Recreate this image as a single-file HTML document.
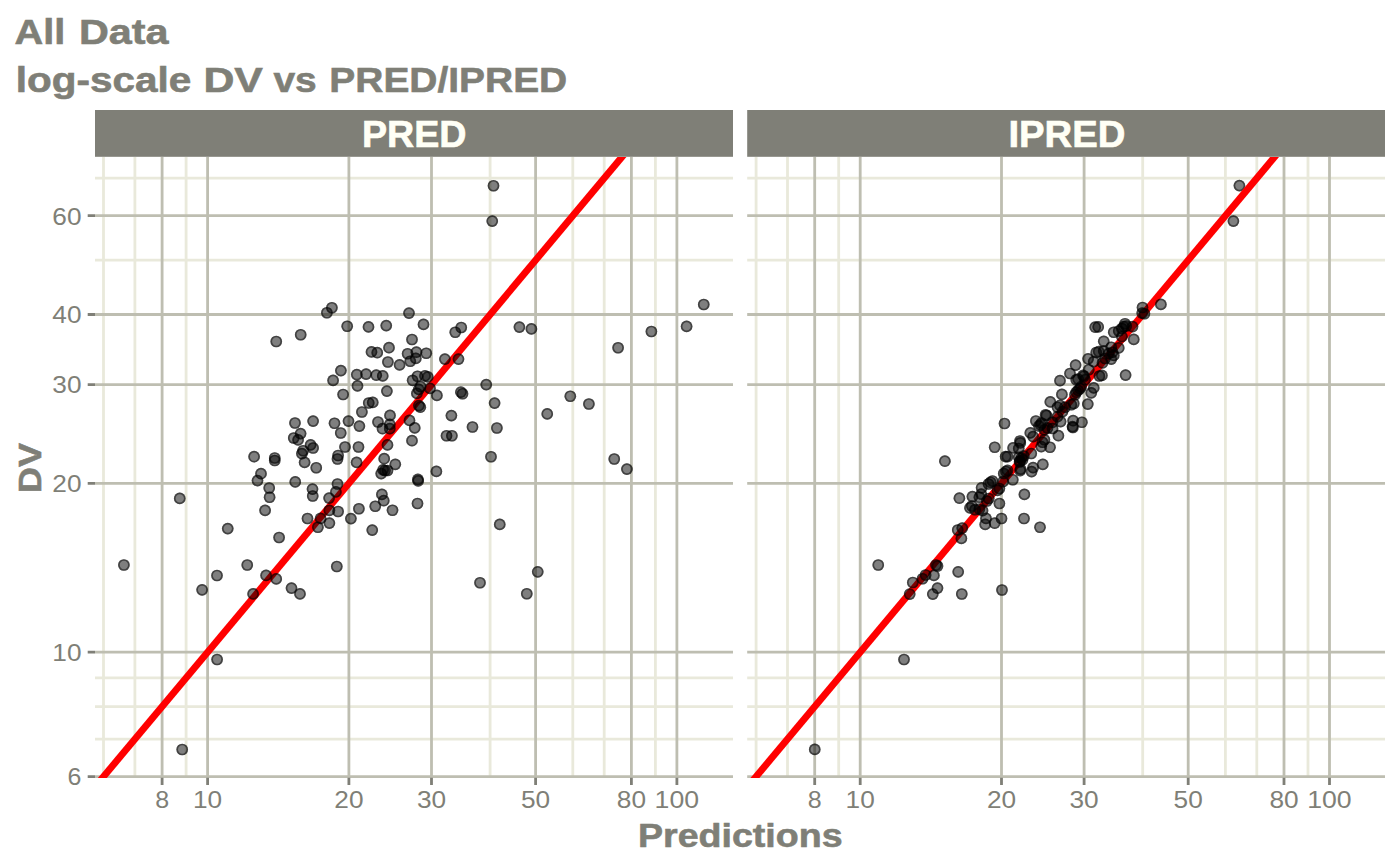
<!DOCTYPE html>
<html><head><meta charset="utf-8"><title>DV vs PRED/IPRED</title>
<style>html,body{margin:0;padding:0;background:#fff}body{width:1400px;height:865px;overflow:hidden}svg{display:block}text{font-family:"Liberation Sans",sans-serif}.b{font-weight:bold}</style></head><body>
<svg width="1400" height="865" viewBox="0 0 1400 865">
<rect width="1400" height="865" fill="#fff"/>
<defs>
<clipPath id="c1"><rect x="95.0" y="157.0" width="638.0" height="620.9"/></clipPath>
<clipPath id="c2"><rect x="747.2" y="157.0" width="637.8" height="620.9"/></clipPath>
</defs>
<text x="14.6" y="43.9" font-size="35.4" fill="#7f7f77" class="b" textLength="50.75" lengthAdjust="spacingAndGlyphs" stroke="#7f7f77" stroke-width="0.6">All</text>
<text x="78.9" y="43.9" font-size="35.4" fill="#7f7f77" class="b" textLength="89.6" lengthAdjust="spacingAndGlyphs" stroke="#7f7f77" stroke-width="0.6">Data</text>
<text x="15.8" y="92.0" font-size="35.4" fill="#7f7f77" class="b" textLength="175.5" lengthAdjust="spacingAndGlyphs" stroke="#7f7f77" stroke-width="0.6">log-scale</text>
<text x="203.4" y="92.0" font-size="35.4" fill="#7f7f77" class="b" textLength="59.5" lengthAdjust="spacingAndGlyphs" stroke="#7f7f77" stroke-width="0.6">DV</text>
<text x="273.45" y="92.0" font-size="35.4" fill="#7f7f77" class="b" textLength="43.35" lengthAdjust="spacingAndGlyphs" stroke="#7f7f77" stroke-width="0.6">vs</text>
<text x="329.35" y="92.0" font-size="35.4" fill="#7f7f77" class="b" textLength="237.85" lengthAdjust="spacingAndGlyphs" stroke="#7f7f77" stroke-width="0.6">PRED/IPRED</text>
<rect x="95.0" y="110" width="638.0" height="46.8" fill="#7f7f77"/>
<path d="M95.0 739.1H733.0M95.0 706.6H733.0M95.0 677.9H733.0M95.0 260.1H733.0M95.0 178.2H733.0M103.5 157.0V777.9M134.9 157.0V777.9M186.1 157.0V777.9M490.1 157.0V777.9M572.8 157.0V777.9M604.2 157.0V777.9M655.4 157.0V777.9" stroke="#e9e9db" stroke-width="2.8" fill="none"/>
<path d="M95.0 776.6H733.0M95.0 652.2H733.0M95.0 483.4H733.0M95.0 384.6H733.0M95.0 314.5H733.0M95.0 215.7H733.0M162.1 157.0V777.9M207.6 157.0V777.9M348.9 157.0V777.9M431.5 157.0V777.9M535.6 157.0V777.9M631.4 157.0V777.9M676.9 157.0V777.9" stroke="#bebeb1" stroke-width="2.8" fill="none"/>
<g clip-path="url(#c1)">
<line x1="-37.8" y1="945.5" x2="900.8" y2="-176.3" stroke="#ff0000" stroke-width="6.9"/>
<g fill="#000" fill-opacity=".5"><circle cx="493.5" cy="185.75" r="5.85"/><circle cx="492.25" cy="221.1" r="5.85"/><circle cx="276.25" cy="341.5" r="5.85"/><circle cx="300.7" cy="334.75" r="5.85"/><circle cx="326.9" cy="312.75" r="5.85"/><circle cx="331.9" cy="307.75" r="5.85"/><circle cx="347.2" cy="326.25" r="5.85"/><circle cx="368.5" cy="326.9" r="5.85"/><circle cx="386.25" cy="325.6" r="5.85"/><circle cx="409" cy="313.1" r="5.85"/><circle cx="423.5" cy="324.4" r="5.85"/><circle cx="412" cy="339.5" r="5.85"/><circle cx="389" cy="347.7" r="5.85"/><circle cx="371.5" cy="351.9" r="5.85"/><circle cx="377.25" cy="352.7" r="5.85"/><circle cx="407.6" cy="353.75" r="5.85"/><circle cx="416.4" cy="352.2" r="5.85"/><circle cx="426.25" cy="353.25" r="5.85"/><circle cx="415.8" cy="358.4" r="5.85"/><circle cx="410.25" cy="361.25" r="5.85"/><circle cx="387.9" cy="362" r="5.85"/><circle cx="399.6" cy="364.9" r="5.85"/><circle cx="444.9" cy="359.1" r="5.85"/><circle cx="458.5" cy="359.1" r="5.85"/><circle cx="455.25" cy="332.25" r="5.85"/><circle cx="461.25" cy="327.5" r="5.85"/><circle cx="519.4" cy="327.1" r="5.85"/><circle cx="531.4" cy="328.9" r="5.85"/><circle cx="618.1" cy="347.75" r="5.85"/><circle cx="651.4" cy="331.5" r="5.85"/><circle cx="686.6" cy="326.4" r="5.85"/><circle cx="703.75" cy="304.5" r="5.85"/><circle cx="340.9" cy="370.6" r="5.85"/><circle cx="333.1" cy="380.4" r="5.85"/><circle cx="356.8" cy="374.6" r="5.85"/><circle cx="366.1" cy="374.1" r="5.85"/><circle cx="376.25" cy="375.2" r="5.85"/><circle cx="382.75" cy="375.9" r="5.85"/><circle cx="357.5" cy="385.9" r="5.85"/><circle cx="386.9" cy="391.1" r="5.85"/><circle cx="343.1" cy="394.5" r="5.85"/><circle cx="412.6" cy="380.3" r="5.85"/><circle cx="417.5" cy="376.25" r="5.85"/><circle cx="425" cy="375.9" r="5.85"/><circle cx="427.8" cy="376.9" r="5.85"/><circle cx="420.6" cy="386.7" r="5.85"/><circle cx="418.75" cy="389.4" r="5.85"/><circle cx="416.9" cy="393.4" r="5.85"/><circle cx="430" cy="388.4" r="5.85"/><circle cx="436.9" cy="395.4" r="5.85"/><circle cx="418.9" cy="405.6" r="5.85"/><circle cx="420.3" cy="407.2" r="5.85"/><circle cx="460.9" cy="392.2" r="5.85"/><circle cx="462.5" cy="393.75" r="5.85"/><circle cx="486.25" cy="384.6" r="5.85"/><circle cx="451.4" cy="415.6" r="5.85"/><circle cx="368.75" cy="403" r="5.85"/><circle cx="372.75" cy="402.4" r="5.85"/><circle cx="361.9" cy="412" r="5.85"/><circle cx="390" cy="415.4" r="5.85"/><circle cx="378" cy="422" r="5.85"/><circle cx="389.8" cy="424.4" r="5.85"/><circle cx="389.8" cy="428.7" r="5.85"/><circle cx="382.5" cy="428.7" r="5.85"/><circle cx="409.5" cy="420.4" r="5.85"/><circle cx="414.75" cy="427.9" r="5.85"/><circle cx="412" cy="440.7" r="5.85"/><circle cx="387.5" cy="444.9" r="5.85"/><circle cx="359.4" cy="426.1" r="5.85"/><circle cx="348.5" cy="421.1" r="5.85"/><circle cx="334.5" cy="423.25" r="5.85"/><circle cx="340.75" cy="433" r="5.85"/><circle cx="313.1" cy="421.1" r="5.85"/><circle cx="295" cy="423" r="5.85"/><circle cx="300.6" cy="433.6" r="5.85"/><circle cx="293.75" cy="438" r="5.85"/><circle cx="298.1" cy="439.9" r="5.85"/><circle cx="310.6" cy="444.9" r="5.85"/><circle cx="313.1" cy="448" r="5.85"/><circle cx="303.1" cy="450.75" r="5.85"/><circle cx="301.9" cy="453.6" r="5.85"/><circle cx="304.6" cy="462.4" r="5.85"/><circle cx="316.25" cy="467.75" r="5.85"/><circle cx="345" cy="447" r="5.85"/><circle cx="358.5" cy="447" r="5.85"/><circle cx="338.1" cy="455.5" r="5.85"/><circle cx="337.5" cy="459" r="5.85"/><circle cx="356.6" cy="462.4" r="5.85"/><circle cx="384.2" cy="458.7" r="5.85"/><circle cx="395.3" cy="464.3" r="5.85"/><circle cx="383.1" cy="469.8" r="5.85"/><circle cx="385" cy="470.5" r="5.85"/><circle cx="387.5" cy="470.5" r="5.85"/><circle cx="381.2" cy="473.6" r="5.85"/><circle cx="417.9" cy="479.4" r="5.85"/><circle cx="418.2" cy="480.9" r="5.85"/><circle cx="436.4" cy="471.4" r="5.85"/><circle cx="254.1" cy="456.7" r="5.85"/><circle cx="274.75" cy="458" r="5.85"/><circle cx="274.75" cy="460.5" r="5.85"/><circle cx="261" cy="473.7" r="5.85"/><circle cx="257.5" cy="480.6" r="5.85"/><circle cx="494.6" cy="403.1" r="5.85"/><circle cx="472.5" cy="427" r="5.85"/><circle cx="496.9" cy="428" r="5.85"/><circle cx="446.5" cy="435.75" r="5.85"/><circle cx="451.9" cy="435.75" r="5.85"/><circle cx="491" cy="456.75" r="5.85"/><circle cx="547.25" cy="413.9" r="5.85"/><circle cx="570.3" cy="396.25" r="5.85"/><circle cx="588.9" cy="404" r="5.85"/><circle cx="614.25" cy="459" r="5.85"/><circle cx="626.9" cy="469.1" r="5.85"/><circle cx="179.75" cy="498.4" r="5.85"/><circle cx="123.9" cy="565" r="5.85"/><circle cx="227.75" cy="528.6" r="5.85"/><circle cx="247.25" cy="565" r="5.85"/><circle cx="217" cy="575.5" r="5.85"/><circle cx="202.1" cy="589.8" r="5.85"/><circle cx="269.2" cy="488" r="5.85"/><circle cx="269.6" cy="497.25" r="5.85"/><circle cx="265.1" cy="510.4" r="5.85"/><circle cx="266.1" cy="575.4" r="5.85"/><circle cx="253.1" cy="593.9" r="5.85"/><circle cx="295.25" cy="481.9" r="5.85"/><circle cx="312.5" cy="489.1" r="5.85"/><circle cx="312.75" cy="496" r="5.85"/><circle cx="337.5" cy="484" r="5.85"/><circle cx="335.9" cy="491.9" r="5.85"/><circle cx="329.1" cy="498.1" r="5.85"/><circle cx="329.4" cy="510.4" r="5.85"/><circle cx="338.1" cy="511.5" r="5.85"/><circle cx="320.6" cy="518.4" r="5.85"/><circle cx="307.5" cy="518.5" r="5.85"/><circle cx="329.4" cy="523.1" r="5.85"/><circle cx="317.9" cy="527.25" r="5.85"/><circle cx="279.1" cy="537.5" r="5.85"/><circle cx="350.9" cy="518.6" r="5.85"/><circle cx="358.9" cy="508.75" r="5.85"/><circle cx="375.25" cy="506.25" r="5.85"/><circle cx="381.9" cy="494.4" r="5.85"/><circle cx="383.75" cy="500.7" r="5.85"/><circle cx="392.5" cy="510.25" r="5.85"/><circle cx="372.25" cy="530.1" r="5.85"/><circle cx="417.5" cy="503.5" r="5.85"/><circle cx="336.8" cy="566.5" r="5.85"/><circle cx="276.25" cy="578.9" r="5.85"/><circle cx="291.5" cy="588.1" r="5.85"/><circle cx="300" cy="593.9" r="5.85"/><circle cx="499.75" cy="524.4" r="5.85"/><circle cx="537.75" cy="571.8" r="5.85"/><circle cx="480" cy="582.75" r="5.85"/><circle cx="526.8" cy="593.75" r="5.85"/><circle cx="217.1" cy="659.5" r="5.85"/><circle cx="182.2" cy="749.5" r="5.85"/></g>
<g fill="none" stroke="#000" stroke-opacity=".48" stroke-width="1.7"><circle cx="493.5" cy="185.75" r="5"/><circle cx="492.25" cy="221.1" r="5"/><circle cx="276.25" cy="341.5" r="5"/><circle cx="300.7" cy="334.75" r="5"/><circle cx="326.9" cy="312.75" r="5"/><circle cx="331.9" cy="307.75" r="5"/><circle cx="347.2" cy="326.25" r="5"/><circle cx="368.5" cy="326.9" r="5"/><circle cx="386.25" cy="325.6" r="5"/><circle cx="409" cy="313.1" r="5"/><circle cx="423.5" cy="324.4" r="5"/><circle cx="412" cy="339.5" r="5"/><circle cx="389" cy="347.7" r="5"/><circle cx="371.5" cy="351.9" r="5"/><circle cx="377.25" cy="352.7" r="5"/><circle cx="407.6" cy="353.75" r="5"/><circle cx="416.4" cy="352.2" r="5"/><circle cx="426.25" cy="353.25" r="5"/><circle cx="415.8" cy="358.4" r="5"/><circle cx="410.25" cy="361.25" r="5"/><circle cx="387.9" cy="362" r="5"/><circle cx="399.6" cy="364.9" r="5"/><circle cx="444.9" cy="359.1" r="5"/><circle cx="458.5" cy="359.1" r="5"/><circle cx="455.25" cy="332.25" r="5"/><circle cx="461.25" cy="327.5" r="5"/><circle cx="519.4" cy="327.1" r="5"/><circle cx="531.4" cy="328.9" r="5"/><circle cx="618.1" cy="347.75" r="5"/><circle cx="651.4" cy="331.5" r="5"/><circle cx="686.6" cy="326.4" r="5"/><circle cx="703.75" cy="304.5" r="5"/><circle cx="340.9" cy="370.6" r="5"/><circle cx="333.1" cy="380.4" r="5"/><circle cx="356.8" cy="374.6" r="5"/><circle cx="366.1" cy="374.1" r="5"/><circle cx="376.25" cy="375.2" r="5"/><circle cx="382.75" cy="375.9" r="5"/><circle cx="357.5" cy="385.9" r="5"/><circle cx="386.9" cy="391.1" r="5"/><circle cx="343.1" cy="394.5" r="5"/><circle cx="412.6" cy="380.3" r="5"/><circle cx="417.5" cy="376.25" r="5"/><circle cx="425" cy="375.9" r="5"/><circle cx="427.8" cy="376.9" r="5"/><circle cx="420.6" cy="386.7" r="5"/><circle cx="418.75" cy="389.4" r="5"/><circle cx="416.9" cy="393.4" r="5"/><circle cx="430" cy="388.4" r="5"/><circle cx="436.9" cy="395.4" r="5"/><circle cx="418.9" cy="405.6" r="5"/><circle cx="420.3" cy="407.2" r="5"/><circle cx="460.9" cy="392.2" r="5"/><circle cx="462.5" cy="393.75" r="5"/><circle cx="486.25" cy="384.6" r="5"/><circle cx="451.4" cy="415.6" r="5"/><circle cx="368.75" cy="403" r="5"/><circle cx="372.75" cy="402.4" r="5"/><circle cx="361.9" cy="412" r="5"/><circle cx="390" cy="415.4" r="5"/><circle cx="378" cy="422" r="5"/><circle cx="389.8" cy="424.4" r="5"/><circle cx="389.8" cy="428.7" r="5"/><circle cx="382.5" cy="428.7" r="5"/><circle cx="409.5" cy="420.4" r="5"/><circle cx="414.75" cy="427.9" r="5"/><circle cx="412" cy="440.7" r="5"/><circle cx="387.5" cy="444.9" r="5"/><circle cx="359.4" cy="426.1" r="5"/><circle cx="348.5" cy="421.1" r="5"/><circle cx="334.5" cy="423.25" r="5"/><circle cx="340.75" cy="433" r="5"/><circle cx="313.1" cy="421.1" r="5"/><circle cx="295" cy="423" r="5"/><circle cx="300.6" cy="433.6" r="5"/><circle cx="293.75" cy="438" r="5"/><circle cx="298.1" cy="439.9" r="5"/><circle cx="310.6" cy="444.9" r="5"/><circle cx="313.1" cy="448" r="5"/><circle cx="303.1" cy="450.75" r="5"/><circle cx="301.9" cy="453.6" r="5"/><circle cx="304.6" cy="462.4" r="5"/><circle cx="316.25" cy="467.75" r="5"/><circle cx="345" cy="447" r="5"/><circle cx="358.5" cy="447" r="5"/><circle cx="338.1" cy="455.5" r="5"/><circle cx="337.5" cy="459" r="5"/><circle cx="356.6" cy="462.4" r="5"/><circle cx="384.2" cy="458.7" r="5"/><circle cx="395.3" cy="464.3" r="5"/><circle cx="383.1" cy="469.8" r="5"/><circle cx="385" cy="470.5" r="5"/><circle cx="387.5" cy="470.5" r="5"/><circle cx="381.2" cy="473.6" r="5"/><circle cx="417.9" cy="479.4" r="5"/><circle cx="418.2" cy="480.9" r="5"/><circle cx="436.4" cy="471.4" r="5"/><circle cx="254.1" cy="456.7" r="5"/><circle cx="274.75" cy="458" r="5"/><circle cx="274.75" cy="460.5" r="5"/><circle cx="261" cy="473.7" r="5"/><circle cx="257.5" cy="480.6" r="5"/><circle cx="494.6" cy="403.1" r="5"/><circle cx="472.5" cy="427" r="5"/><circle cx="496.9" cy="428" r="5"/><circle cx="446.5" cy="435.75" r="5"/><circle cx="451.9" cy="435.75" r="5"/><circle cx="491" cy="456.75" r="5"/><circle cx="547.25" cy="413.9" r="5"/><circle cx="570.3" cy="396.25" r="5"/><circle cx="588.9" cy="404" r="5"/><circle cx="614.25" cy="459" r="5"/><circle cx="626.9" cy="469.1" r="5"/><circle cx="179.75" cy="498.4" r="5"/><circle cx="123.9" cy="565" r="5"/><circle cx="227.75" cy="528.6" r="5"/><circle cx="247.25" cy="565" r="5"/><circle cx="217" cy="575.5" r="5"/><circle cx="202.1" cy="589.8" r="5"/><circle cx="269.2" cy="488" r="5"/><circle cx="269.6" cy="497.25" r="5"/><circle cx="265.1" cy="510.4" r="5"/><circle cx="266.1" cy="575.4" r="5"/><circle cx="253.1" cy="593.9" r="5"/><circle cx="295.25" cy="481.9" r="5"/><circle cx="312.5" cy="489.1" r="5"/><circle cx="312.75" cy="496" r="5"/><circle cx="337.5" cy="484" r="5"/><circle cx="335.9" cy="491.9" r="5"/><circle cx="329.1" cy="498.1" r="5"/><circle cx="329.4" cy="510.4" r="5"/><circle cx="338.1" cy="511.5" r="5"/><circle cx="320.6" cy="518.4" r="5"/><circle cx="307.5" cy="518.5" r="5"/><circle cx="329.4" cy="523.1" r="5"/><circle cx="317.9" cy="527.25" r="5"/><circle cx="279.1" cy="537.5" r="5"/><circle cx="350.9" cy="518.6" r="5"/><circle cx="358.9" cy="508.75" r="5"/><circle cx="375.25" cy="506.25" r="5"/><circle cx="381.9" cy="494.4" r="5"/><circle cx="383.75" cy="500.7" r="5"/><circle cx="392.5" cy="510.25" r="5"/><circle cx="372.25" cy="530.1" r="5"/><circle cx="417.5" cy="503.5" r="5"/><circle cx="336.8" cy="566.5" r="5"/><circle cx="276.25" cy="578.9" r="5"/><circle cx="291.5" cy="588.1" r="5"/><circle cx="300" cy="593.9" r="5"/><circle cx="499.75" cy="524.4" r="5"/><circle cx="537.75" cy="571.8" r="5"/><circle cx="480" cy="582.75" r="5"/><circle cx="526.8" cy="593.75" r="5"/><circle cx="217.1" cy="659.5" r="5"/><circle cx="182.2" cy="749.5" r="5"/></g>
</g>
<path d="M162.1 777.6999999999999v7.2M207.6 777.6999999999999v7.2M348.9 777.6999999999999v7.2M431.5 777.6999999999999v7.2M535.6 777.6999999999999v7.2M631.4 777.6999999999999v7.2M676.9 777.6999999999999v7.2" stroke="#7f7f77" stroke-width="2.8" fill="none"/>
<text x="155.2" y="808.4" font-size="23.4" fill="#7f7f77" textLength="13.9" lengthAdjust="spacingAndGlyphs">8</text>
<text x="193.0" y="808.4" font-size="23.4" fill="#7f7f77" textLength="29.2" lengthAdjust="spacingAndGlyphs">10</text>
<text x="334.3" y="808.4" font-size="23.4" fill="#7f7f77" textLength="29.2" lengthAdjust="spacingAndGlyphs">20</text>
<text x="416.9" y="808.4" font-size="23.4" fill="#7f7f77" textLength="29.2" lengthAdjust="spacingAndGlyphs">30</text>
<text x="521.0" y="808.4" font-size="23.4" fill="#7f7f77" textLength="29.2" lengthAdjust="spacingAndGlyphs">50</text>
<text x="616.8" y="808.4" font-size="23.4" fill="#7f7f77" textLength="29.2" lengthAdjust="spacingAndGlyphs">80</text>
<text x="654.6" y="808.4" font-size="23.4" fill="#7f7f77" textLength="44.5" lengthAdjust="spacingAndGlyphs">100</text>
<rect x="747.2" y="110" width="637.8" height="46.8" fill="#7f7f77"/>
<path d="M747.2 739.1H1385.0M747.2 706.6H1385.0M747.2 677.9H1385.0M747.2 260.1H1385.0M747.2 178.2H1385.0M756.1 157.0V777.9M787.5 157.0V777.9M838.7 157.0V777.9M1142.7 157.0V777.9M1225.4 157.0V777.9M1256.8 157.0V777.9M1308.0 157.0V777.9" stroke="#e9e9db" stroke-width="2.8" fill="none"/>
<path d="M747.2 776.6H1385.0M747.2 652.2H1385.0M747.2 483.4H1385.0M747.2 384.6H1385.0M747.2 314.5H1385.0M747.2 215.7H1385.0M814.7 157.0V777.9M860.2 157.0V777.9M1001.5 157.0V777.9M1084.1 157.0V777.9M1188.2 157.0V777.9M1284.0 157.0V777.9M1329.5 157.0V777.9" stroke="#bebeb1" stroke-width="2.8" fill="none"/>
<g clip-path="url(#c2)">
<g fill="#000" fill-opacity=".5"><circle cx="1239.4" cy="185.6" r="5.85"/><circle cx="1233.4" cy="221.1" r="5.85"/></g>
<g fill="none" stroke="#000" stroke-opacity=".48" stroke-width="1.7"><circle cx="1239.4" cy="185.6" r="5"/><circle cx="1233.4" cy="221.1" r="5"/></g>
<line x1="614.8" y1="945.5" x2="1553.4" y2="-176.3" stroke="#ff0000" stroke-width="6.9"/>
<g fill="#000" fill-opacity=".5"><circle cx="814.75" cy="749.4" r="5.85"/><circle cx="904" cy="659.5" r="5.85"/><circle cx="878.25" cy="565" r="5.85"/><circle cx="1002" cy="590" r="5.85"/><circle cx="958.2" cy="571.8" r="5.85"/><circle cx="961.8" cy="594" r="5.85"/><circle cx="937.5" cy="588.1" r="5.85"/><circle cx="932.8" cy="594.1" r="5.85"/><circle cx="933.9" cy="575.4" r="5.85"/><circle cx="936" cy="565" r="5.85"/><circle cx="937.5" cy="566" r="5.85"/><circle cx="925.6" cy="575" r="5.85"/><circle cx="922.5" cy="578.75" r="5.85"/><circle cx="912.8" cy="582.5" r="5.85"/><circle cx="909.7" cy="594.1" r="5.85"/><circle cx="957.75" cy="530" r="5.85"/><circle cx="962.25" cy="528.1" r="5.85"/><circle cx="961.4" cy="538.4" r="5.85"/><circle cx="944.9" cy="461.2" r="5.85"/><circle cx="959.4" cy="498.2" r="5.85"/><circle cx="972.4" cy="496.6" r="5.85"/><circle cx="981.6" cy="487.8" r="5.85"/><circle cx="1024.4" cy="494.4" r="5.85"/><circle cx="1024" cy="518.5" r="5.85"/><circle cx="999.4" cy="503.5" r="5.85"/><circle cx="1001.5" cy="518.5" r="5.85"/><circle cx="994.7" cy="523.2" r="5.85"/><circle cx="986" cy="518.4" r="5.85"/><circle cx="985.2" cy="524.4" r="5.85"/><circle cx="1012.8" cy="479.75" r="5.85"/><circle cx="970" cy="507.9" r="5.85"/><circle cx="971.9" cy="506" r="5.85"/><circle cx="975" cy="509.75" r="5.85"/><circle cx="982.5" cy="510.7" r="5.85"/><circle cx="979.4" cy="509.1" r="5.85"/><circle cx="981.25" cy="494.1" r="5.85"/><circle cx="979.4" cy="497.25" r="5.85"/><circle cx="990.6" cy="482.25" r="5.85"/><circle cx="992.5" cy="481" r="5.85"/><circle cx="988.5" cy="484" r="5.85"/><circle cx="997.5" cy="490.4" r="5.85"/><circle cx="999.4" cy="488.5" r="5.85"/><circle cx="986.9" cy="501" r="5.85"/><circle cx="988.75" cy="498.5" r="5.85"/><circle cx="1003.1" cy="481.6" r="5.85"/><circle cx="1040" cy="527.25" r="5.85"/><circle cx="994.7" cy="447.25" r="5.85"/><circle cx="1004.5" cy="423.5" r="5.85"/><circle cx="1005.6" cy="456.6" r="5.85"/><circle cx="1007.5" cy="456.6" r="5.85"/><circle cx="1013.1" cy="447.9" r="5.85"/><circle cx="1020" cy="441" r="5.85"/><circle cx="1020.3" cy="442.9" r="5.85"/><circle cx="1018.75" cy="448.5" r="5.85"/><circle cx="1030.3" cy="432.9" r="5.85"/><circle cx="1033.1" cy="436.6" r="5.85"/><circle cx="1031.25" cy="453.5" r="5.85"/><circle cx="1042.8" cy="464.4" r="5.85"/><circle cx="1033.1" cy="467.6" r="5.85"/><circle cx="1031.6" cy="471.6" r="5.85"/><circle cx="1020.6" cy="469.1" r="5.85"/><circle cx="1020.2" cy="470.6" r="5.85"/><circle cx="1007.5" cy="470.4" r="5.85"/><circle cx="1006" cy="471.5" r="5.85"/><circle cx="1003.75" cy="473.5" r="5.85"/><circle cx="1018.75" cy="457.25" r="5.85"/><circle cx="1021.5" cy="458.2" r="5.85"/><circle cx="1019.6" cy="462" r="5.85"/><circle cx="1022.5" cy="459.75" r="5.85"/><circle cx="1023.75" cy="456" r="5.85"/><circle cx="1020" cy="461" r="5.85"/><circle cx="1041.25" cy="446.6" r="5.85"/><circle cx="1050" cy="447.25" r="5.85"/><circle cx="1044.4" cy="439.75" r="5.85"/><circle cx="1042.5" cy="442.25" r="5.85"/><circle cx="1058.4" cy="435.7" r="5.85"/><circle cx="1044.4" cy="429.75" r="5.85"/><circle cx="1047.5" cy="428" r="5.85"/><circle cx="1052.5" cy="428.5" r="5.85"/><circle cx="1060" cy="380.7" r="5.85"/><circle cx="1061.9" cy="394.4" r="5.85"/><circle cx="1050.3" cy="401.9" r="5.85"/><circle cx="1087.8" cy="404.1" r="5.85"/><circle cx="1093.75" cy="387.9" r="5.85"/><circle cx="1091.25" cy="392.9" r="5.85"/><circle cx="1073.1" cy="420.7" r="5.85"/><circle cx="1081.9" cy="422.25" r="5.85"/><circle cx="1072.5" cy="426.6" r="5.85"/><circle cx="1072.9" cy="427.5" r="5.85"/><circle cx="1060.6" cy="421.6" r="5.85"/><circle cx="1045.6" cy="414.75" r="5.85"/><circle cx="1046.5" cy="415.5" r="5.85"/><circle cx="1035.9" cy="421" r="5.85"/><circle cx="1040.6" cy="424.75" r="5.85"/><circle cx="1039" cy="426" r="5.85"/><circle cx="1041.5" cy="423" r="5.85"/><circle cx="1060" cy="405.4" r="5.85"/><circle cx="1057.5" cy="407.25" r="5.85"/><circle cx="1073.75" cy="403.5" r="5.85"/><circle cx="1071.25" cy="404.75" r="5.85"/><circle cx="1078.1" cy="390.4" r="5.85"/><circle cx="1076.25" cy="392.25" r="5.85"/><circle cx="1080" cy="388.5" r="5.85"/><circle cx="1081.25" cy="386.6" r="5.85"/><circle cx="1075" cy="394.75" r="5.85"/><circle cx="1078.1" cy="379.1" r="5.85"/><circle cx="1085" cy="379.75" r="5.85"/><circle cx="1065" cy="407.25" r="5.85"/><circle cx="1062.5" cy="411.6" r="5.85"/><circle cx="1057.5" cy="416.6" r="5.85"/><circle cx="1052.5" cy="422.25" r="5.85"/><circle cx="1095.2" cy="327.2" r="5.85"/><circle cx="1098.2" cy="326.9" r="5.85"/><circle cx="1133.75" cy="339.4" r="5.85"/><circle cx="1125.6" cy="375.1" r="5.85"/><circle cx="1103.75" cy="341.3" r="5.85"/><circle cx="1113.75" cy="332.25" r="5.85"/><circle cx="1118.75" cy="331" r="5.85"/><circle cx="1121.9" cy="328.5" r="5.85"/><circle cx="1123.75" cy="326.6" r="5.85"/><circle cx="1126.25" cy="326" r="5.85"/><circle cx="1132.5" cy="326.6" r="5.85"/><circle cx="1121.9" cy="336.6" r="5.85"/><circle cx="1118.75" cy="347.9" r="5.85"/><circle cx="1111.25" cy="347.25" r="5.85"/><circle cx="1096.25" cy="352.5" r="5.85"/><circle cx="1098.75" cy="351.6" r="5.85"/><circle cx="1103.75" cy="351" r="5.85"/><circle cx="1088.1" cy="358.8" r="5.85"/><circle cx="1093.75" cy="361.6" r="5.85"/><circle cx="1111.25" cy="359.1" r="5.85"/><circle cx="1075.6" cy="365.1" r="5.85"/><circle cx="1070" cy="373.5" r="5.85"/><circle cx="1088.75" cy="369.75" r="5.85"/><circle cx="1083.1" cy="375.4" r="5.85"/><circle cx="1084" cy="376.25" r="5.85"/><circle cx="1101.9" cy="375.4" r="5.85"/><circle cx="1099.4" cy="376" r="5.85"/><circle cx="1076.25" cy="379.75" r="5.85"/><circle cx="1108.75" cy="353.5" r="5.85"/><circle cx="1105" cy="358.5" r="5.85"/><circle cx="1102.5" cy="362.9" r="5.85"/><circle cx="1112.5" cy="352.25" r="5.85"/><circle cx="1113.75" cy="355.4" r="5.85"/><circle cx="1160.9" cy="304.4" r="5.85"/><circle cx="1142.5" cy="307.5" r="5.85"/><circle cx="1142.2" cy="313.1" r="5.85"/><circle cx="1144.4" cy="313.75" r="5.85"/><circle cx="1125" cy="323.75" r="5.85"/></g>
<g fill="none" stroke="#000" stroke-opacity=".48" stroke-width="1.7"><circle cx="814.75" cy="749.4" r="5"/><circle cx="904" cy="659.5" r="5"/><circle cx="878.25" cy="565" r="5"/><circle cx="1002" cy="590" r="5"/><circle cx="958.2" cy="571.8" r="5"/><circle cx="961.8" cy="594" r="5"/><circle cx="937.5" cy="588.1" r="5"/><circle cx="932.8" cy="594.1" r="5"/><circle cx="933.9" cy="575.4" r="5"/><circle cx="936" cy="565" r="5"/><circle cx="937.5" cy="566" r="5"/><circle cx="925.6" cy="575" r="5"/><circle cx="922.5" cy="578.75" r="5"/><circle cx="912.8" cy="582.5" r="5"/><circle cx="909.7" cy="594.1" r="5"/><circle cx="957.75" cy="530" r="5"/><circle cx="962.25" cy="528.1" r="5"/><circle cx="961.4" cy="538.4" r="5"/><circle cx="944.9" cy="461.2" r="5"/><circle cx="959.4" cy="498.2" r="5"/><circle cx="972.4" cy="496.6" r="5"/><circle cx="981.6" cy="487.8" r="5"/><circle cx="1024.4" cy="494.4" r="5"/><circle cx="1024" cy="518.5" r="5"/><circle cx="999.4" cy="503.5" r="5"/><circle cx="1001.5" cy="518.5" r="5"/><circle cx="994.7" cy="523.2" r="5"/><circle cx="986" cy="518.4" r="5"/><circle cx="985.2" cy="524.4" r="5"/><circle cx="1012.8" cy="479.75" r="5"/><circle cx="970" cy="507.9" r="5"/><circle cx="971.9" cy="506" r="5"/><circle cx="975" cy="509.75" r="5"/><circle cx="982.5" cy="510.7" r="5"/><circle cx="979.4" cy="509.1" r="5"/><circle cx="981.25" cy="494.1" r="5"/><circle cx="979.4" cy="497.25" r="5"/><circle cx="990.6" cy="482.25" r="5"/><circle cx="992.5" cy="481" r="5"/><circle cx="988.5" cy="484" r="5"/><circle cx="997.5" cy="490.4" r="5"/><circle cx="999.4" cy="488.5" r="5"/><circle cx="986.9" cy="501" r="5"/><circle cx="988.75" cy="498.5" r="5"/><circle cx="1003.1" cy="481.6" r="5"/><circle cx="1040" cy="527.25" r="5"/><circle cx="994.7" cy="447.25" r="5"/><circle cx="1004.5" cy="423.5" r="5"/><circle cx="1005.6" cy="456.6" r="5"/><circle cx="1007.5" cy="456.6" r="5"/><circle cx="1013.1" cy="447.9" r="5"/><circle cx="1020" cy="441" r="5"/><circle cx="1020.3" cy="442.9" r="5"/><circle cx="1018.75" cy="448.5" r="5"/><circle cx="1030.3" cy="432.9" r="5"/><circle cx="1033.1" cy="436.6" r="5"/><circle cx="1031.25" cy="453.5" r="5"/><circle cx="1042.8" cy="464.4" r="5"/><circle cx="1033.1" cy="467.6" r="5"/><circle cx="1031.6" cy="471.6" r="5"/><circle cx="1020.6" cy="469.1" r="5"/><circle cx="1020.2" cy="470.6" r="5"/><circle cx="1007.5" cy="470.4" r="5"/><circle cx="1006" cy="471.5" r="5"/><circle cx="1003.75" cy="473.5" r="5"/><circle cx="1018.75" cy="457.25" r="5"/><circle cx="1021.5" cy="458.2" r="5"/><circle cx="1019.6" cy="462" r="5"/><circle cx="1022.5" cy="459.75" r="5"/><circle cx="1023.75" cy="456" r="5"/><circle cx="1020" cy="461" r="5"/><circle cx="1041.25" cy="446.6" r="5"/><circle cx="1050" cy="447.25" r="5"/><circle cx="1044.4" cy="439.75" r="5"/><circle cx="1042.5" cy="442.25" r="5"/><circle cx="1058.4" cy="435.7" r="5"/><circle cx="1044.4" cy="429.75" r="5"/><circle cx="1047.5" cy="428" r="5"/><circle cx="1052.5" cy="428.5" r="5"/><circle cx="1060" cy="380.7" r="5"/><circle cx="1061.9" cy="394.4" r="5"/><circle cx="1050.3" cy="401.9" r="5"/><circle cx="1087.8" cy="404.1" r="5"/><circle cx="1093.75" cy="387.9" r="5"/><circle cx="1091.25" cy="392.9" r="5"/><circle cx="1073.1" cy="420.7" r="5"/><circle cx="1081.9" cy="422.25" r="5"/><circle cx="1072.5" cy="426.6" r="5"/><circle cx="1072.9" cy="427.5" r="5"/><circle cx="1060.6" cy="421.6" r="5"/><circle cx="1045.6" cy="414.75" r="5"/><circle cx="1046.5" cy="415.5" r="5"/><circle cx="1035.9" cy="421" r="5"/><circle cx="1040.6" cy="424.75" r="5"/><circle cx="1039" cy="426" r="5"/><circle cx="1041.5" cy="423" r="5"/><circle cx="1060" cy="405.4" r="5"/><circle cx="1057.5" cy="407.25" r="5"/><circle cx="1073.75" cy="403.5" r="5"/><circle cx="1071.25" cy="404.75" r="5"/><circle cx="1078.1" cy="390.4" r="5"/><circle cx="1076.25" cy="392.25" r="5"/><circle cx="1080" cy="388.5" r="5"/><circle cx="1081.25" cy="386.6" r="5"/><circle cx="1075" cy="394.75" r="5"/><circle cx="1078.1" cy="379.1" r="5"/><circle cx="1085" cy="379.75" r="5"/><circle cx="1065" cy="407.25" r="5"/><circle cx="1062.5" cy="411.6" r="5"/><circle cx="1057.5" cy="416.6" r="5"/><circle cx="1052.5" cy="422.25" r="5"/><circle cx="1095.2" cy="327.2" r="5"/><circle cx="1098.2" cy="326.9" r="5"/><circle cx="1133.75" cy="339.4" r="5"/><circle cx="1125.6" cy="375.1" r="5"/><circle cx="1103.75" cy="341.3" r="5"/><circle cx="1113.75" cy="332.25" r="5"/><circle cx="1118.75" cy="331" r="5"/><circle cx="1121.9" cy="328.5" r="5"/><circle cx="1123.75" cy="326.6" r="5"/><circle cx="1126.25" cy="326" r="5"/><circle cx="1132.5" cy="326.6" r="5"/><circle cx="1121.9" cy="336.6" r="5"/><circle cx="1118.75" cy="347.9" r="5"/><circle cx="1111.25" cy="347.25" r="5"/><circle cx="1096.25" cy="352.5" r="5"/><circle cx="1098.75" cy="351.6" r="5"/><circle cx="1103.75" cy="351" r="5"/><circle cx="1088.1" cy="358.8" r="5"/><circle cx="1093.75" cy="361.6" r="5"/><circle cx="1111.25" cy="359.1" r="5"/><circle cx="1075.6" cy="365.1" r="5"/><circle cx="1070" cy="373.5" r="5"/><circle cx="1088.75" cy="369.75" r="5"/><circle cx="1083.1" cy="375.4" r="5"/><circle cx="1084" cy="376.25" r="5"/><circle cx="1101.9" cy="375.4" r="5"/><circle cx="1099.4" cy="376" r="5"/><circle cx="1076.25" cy="379.75" r="5"/><circle cx="1108.75" cy="353.5" r="5"/><circle cx="1105" cy="358.5" r="5"/><circle cx="1102.5" cy="362.9" r="5"/><circle cx="1112.5" cy="352.25" r="5"/><circle cx="1113.75" cy="355.4" r="5"/><circle cx="1160.9" cy="304.4" r="5"/><circle cx="1142.5" cy="307.5" r="5"/><circle cx="1142.2" cy="313.1" r="5"/><circle cx="1144.4" cy="313.75" r="5"/><circle cx="1125" cy="323.75" r="5"/></g>
</g>
<path d="M814.7 777.6999999999999v7.2M860.2 777.6999999999999v7.2M1001.5 777.6999999999999v7.2M1084.1 777.6999999999999v7.2M1188.2 777.6999999999999v7.2M1284.0 777.6999999999999v7.2M1329.5 777.6999999999999v7.2" stroke="#7f7f77" stroke-width="2.8" fill="none"/>
<text x="807.8" y="808.4" font-size="23.4" fill="#7f7f77" textLength="13.9" lengthAdjust="spacingAndGlyphs">8</text>
<text x="845.6" y="808.4" font-size="23.4" fill="#7f7f77" textLength="29.2" lengthAdjust="spacingAndGlyphs">10</text>
<text x="986.9" y="808.4" font-size="23.4" fill="#7f7f77" textLength="29.2" lengthAdjust="spacingAndGlyphs">20</text>
<text x="1069.5" y="808.4" font-size="23.4" fill="#7f7f77" textLength="29.2" lengthAdjust="spacingAndGlyphs">30</text>
<text x="1173.6" y="808.4" font-size="23.4" fill="#7f7f77" textLength="29.2" lengthAdjust="spacingAndGlyphs">50</text>
<text x="1269.4" y="808.4" font-size="23.4" fill="#7f7f77" textLength="29.2" lengthAdjust="spacingAndGlyphs">80</text>
<text x="1307.2" y="808.4" font-size="23.4" fill="#7f7f77" textLength="44.5" lengthAdjust="spacingAndGlyphs">100</text>
<text x="361.9" y="146.7" font-size="37.0" fill="#fffff6" class="b" textLength="104.6" lengthAdjust="spacingAndGlyphs" stroke="#fffff4" stroke-width="0.6">PRED</text>
<text x="1008.4" y="146.7" font-size="37.0" fill="#fffff6" class="b" textLength="117.0" lengthAdjust="spacingAndGlyphs" stroke="#fffff4" stroke-width="0.6">IPRED</text>
<path d="M87.7 776.6H95M87.7 652.2H95M87.7 483.4H95M87.7 384.6H95M87.7 314.5H95M87.7 215.7H95" stroke="#7f7f77" stroke-width="2.8" fill="none"/>
<text x="67.6" y="785.4" font-size="23.4" fill="#7f7f77" textLength="13.9" lengthAdjust="spacingAndGlyphs">6</text>
<text x="52.3" y="661.0" font-size="23.4" fill="#7f7f77" textLength="29.2" lengthAdjust="spacingAndGlyphs">10</text>
<text x="52.3" y="492.2" font-size="23.4" fill="#7f7f77" textLength="29.2" lengthAdjust="spacingAndGlyphs">20</text>
<text x="52.3" y="393.4" font-size="23.4" fill="#7f7f77" textLength="29.2" lengthAdjust="spacingAndGlyphs">30</text>
<text x="52.3" y="323.3" font-size="23.4" fill="#7f7f77" textLength="29.2" lengthAdjust="spacingAndGlyphs">40</text>
<text x="52.3" y="224.5" font-size="23.4" fill="#7f7f77" textLength="29.2" lengthAdjust="spacingAndGlyphs">60</text>
<text x="638.0" y="847.3" font-size="33.4" fill="#7f7f77" class="b" textLength="204.6" lengthAdjust="spacingAndGlyphs" stroke="#7f7f77" stroke-width="0.6">Predictions</text>
<text transform="translate(41.3,493) rotate(-90)" font-size="32.2" class="b" fill="#7f7f77" stroke="#7f7f77" stroke-width="0.6" textLength="50" lengthAdjust="spacingAndGlyphs">DV</text>
</svg></body></html>
